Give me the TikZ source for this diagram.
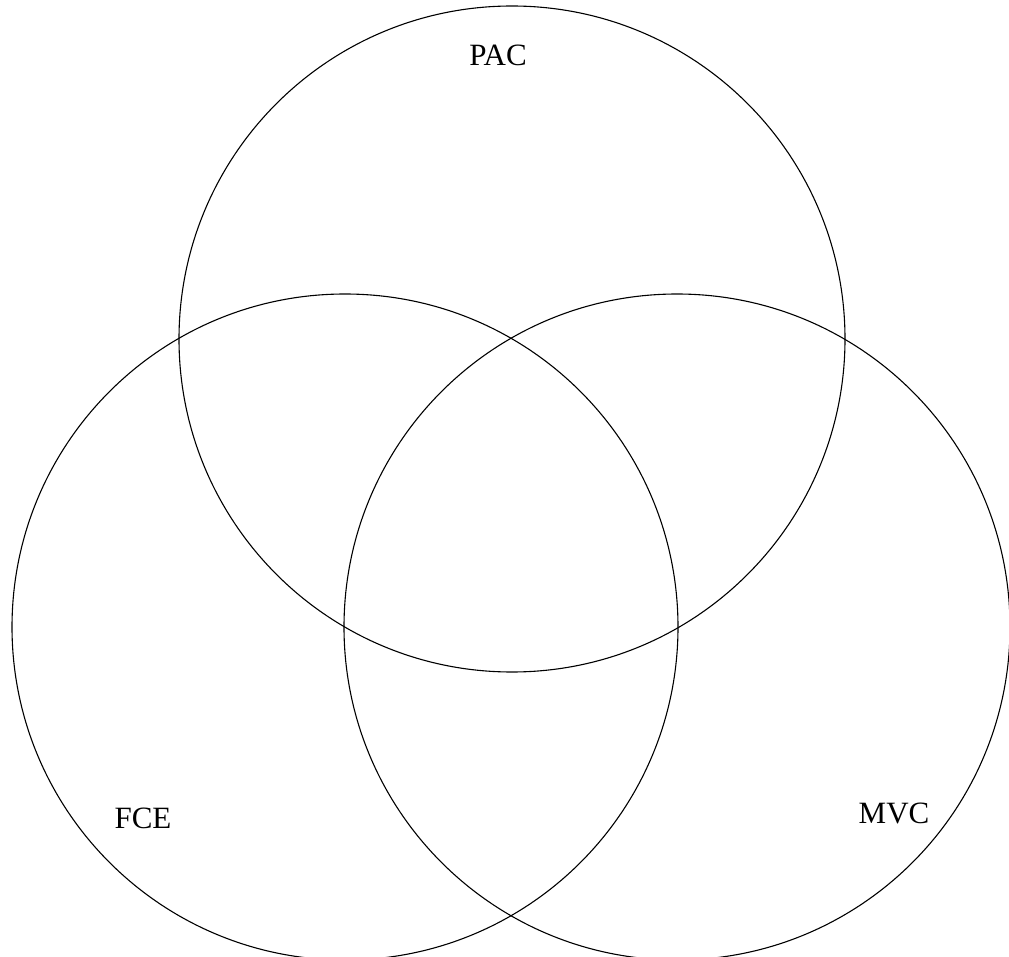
\documentclass[tikz,border=0pt]{standalone}
\usepackage{fontspec}
\setmainfont{Liberation Serif}
\usetikzlibrary{positioning}

\begin{document}
\begin{tikzpicture}[
  x=1pt, y=-1pt,
  vennset/.style={
    draw=black,
    line width=1.1pt,
    circle,
    minimum size=666pt,
    inner sep=0pt
  },
  setlabel/.style={
    font=\fontsize{31}{36}\selectfont,
    text=black
  }
]
  \useasboundingbox (0,0) rectangle (1009,957);

  % --- The three sets ---
  \node[vennset] (pac) at (512,339) {};
  \node[vennset] (fce) at (345,627) {};
  \node[vennset] (mvc) at (677,627) {};

  % --- Set names ---
  \node[setlabel] (pacname) at (498,55)  {PAC};
  \node[setlabel] (fcename) at (143,818) {FCE};
  \node[setlabel] (mvcname) at (894,813) {MVC};

\end{tikzpicture}
\end{document}
